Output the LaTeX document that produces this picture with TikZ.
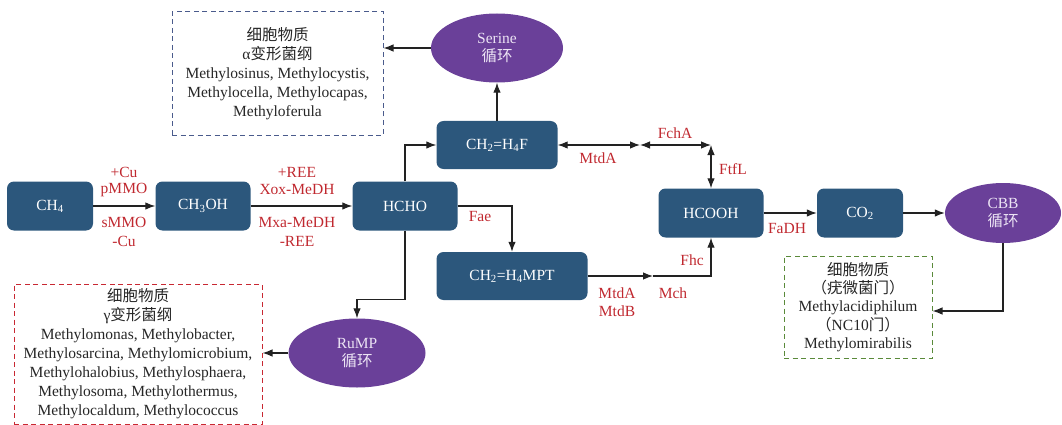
\documentclass[tikz,border=0pt]{standalone}
\usepackage{fontspec}
\setmainfont{Liberation Serif}
\newfontfamily\cjk{Noto Sans CJK SC}
\usetikzlibrary{shapes.geometric,arrows.meta,calc}
\definecolor{boxblue}{RGB}{44,87,124}
\definecolor{purp}{RGB}{106,64,153}
\definecolor{labred}{RGB}{192,40,47}
\definecolor{dblue}{RGB}{74,91,140}
\definecolor{dred}{RGB}{200,40,50}
\definecolor{dgreen}{RGB}{90,138,58}
\definecolor{arrgray}{RGB}{34,34,34}
\definecolor{elltext}{RGB}{236,228,244}
\newcommand{\fsz}{\fontsize{15.5}{19}\selectfont}
\tikzset{
  stepbox/.style={fill=boxblue, rounded corners=7pt, text=white, font=\fsz, inner sep=0pt},
  cyc/.style={ellipse, fill=purp, text=elltext, align=center, inner sep=0pt, font=\fontsize{15.5}{18}\selectfont},
  lab/.style={text=labred, font=\fsz, inner sep=0pt},
  arr/.style={-{Latex[length=10pt,width=7.5pt]}, line width=1.1pt, draw=arrgray},
  darr/.style={{Latex[length=10pt,width=7.5pt]}-{Latex[length=10pt,width=7.5pt]}, line width=1.1pt, draw=arrgray},
  dbox/.style={dash pattern=on 5pt off 3.5pt, line width=1pt, align=center, inner sep=0pt, text=black!85, font=\fsz},
}
\begin{document}
\begin{tikzpicture}[x=1pt,y=-1pt]
\useasboundingbox (0,0) rectangle (1062,425);
% main boxes
\node[stepbox, minimum width=86pt, minimum height=49pt] (ch4) at (50,206) {CH\textsubscript{4}};
\node[stepbox, minimum width=95pt, minimum height=49pt] (ch3oh) at (203,206) {CH\textsubscript{3}OH};
\node[stepbox, minimum width=105pt, minimum height=49pt] (hcho) at (405,206) {HCHO};
\node[stepbox, minimum width=121pt, minimum height=48pt] (h4f) at (497,145) {CH\textsubscript{2}=H\textsubscript{4}F};
\node[stepbox, minimum width=151pt, minimum height=48pt] (h4mpt) at (512,276) {CH\textsubscript{2}=H\textsubscript{4}MPT};
\node[stepbox, minimum width=105pt, minimum height=49pt] (hcooh) at (711,213) {HCOOH};
\node[stepbox, minimum width=86pt, minimum height=49pt] (co2) at (860,213) {CO\textsubscript{2}};
% cycles
\node[cyc, minimum width=132pt, minimum height=69pt] (serine) at (497,48) {Serine\\{\cjk 循环}};
\node[cyc, minimum width=137pt, minimum height=69pt] (rump) at (357,353) {RuMP\\{\cjk 循环}};
\node[cyc, minimum width=116pt, minimum height=60pt] (cbb) at (1003,213) {CBB\\{\cjk 循环}};
% dashed boxes
\node[dbox, draw=dblue, minimum width=211pt, minimum height=123pt] (abox) at (277.5,73.5)
  {{\cjk 细胞物质}\\α{\cjk 变形菌纲}\\Methylosinus, Methylocystis,\\Methylocella, Methylocapas,\\Methyloferula};
\node[dbox, draw=dred, minimum width=248pt, minimum height=140pt] (gbox) at (138,354)
  {{\cjk 细胞物质}\\γ{\cjk 变形菌纲}\\Methylomonas, Methylobacter,\\Methylosarcina, Methylomicrobium,\\Methylohalobius, Methylosphaera,\\Methylosoma, Methylothermus,\\Methylocaldum, Methylococcus};
\node[dbox, draw=dgreen, minimum width=148pt, minimum height=102pt, font=\fontsize{15.5}{18.2}\selectfont] (vbox) at (858,307)
  {{\cjk 细胞物质}\\{\cjk （疣微菌门）}\\Methylacidiphilum\\{\cjk （}NC10{\cjk 门）}\\Methylomirabilis};
% junctions
\coordinate (j1) at (640,145);
\coordinate (j2) at (711,145);
\coordinate (j3) at (653,276);
% connectors
\draw[arr] (ch4) -- (ch3oh);
\draw[arr] (ch3oh) -- (hcho);
\draw[arr] (hcho.north) |- (h4f.west);
\draw[arr] (hcho.east) -| (h4mpt.north);
\draw[arr] (hcho.south) -- ++(0,69) -| (rump.north);
\draw[arr] (rump.west) -- (rump.west -| gbox.east);
\draw[arr] (h4f.north) -- (serine.south);
\draw[arr] (serine.west) -- (serine.west -| abox.east);
\draw[darr] (h4f.east) -- (j1);
\draw[darr] (j1) -- (j2);
\draw[darr] (j2) -- (hcooh.north);
\draw[arr] (h4mpt.east) -- (j3);
\draw[arr] (j3) -| (hcooh.south);
\draw[arr] (hcooh) -- (co2);
\draw[arr] (co2) -- (cbb);
\draw[arr] (cbb.south) |- ([yshift=-4pt]vbox.east);
% enzyme labels
\node[lab] (l1) at (124,172) {+Cu};
\node[lab] (l2) at (124,190) {pMMO};
\node[lab] (l3) at (124,222) {sMMO};
\node[lab] (l4) at (124,241) {-Cu};
\node[lab] (l5) at (297,172) {+REE};
\node[lab] (l6) at (297,190) {Xox-MeDH};
\node[lab] (l7) at (297,222) {Mxa-MeDH};
\node[lab] (l8) at (297,241) {-REE};
\node[lab] (l9) at (480,217) {Fae};
\node[lab] (l10) at (598,158) {MtdA};
\node[lab] (l11) at (675,133) {FchA};
\node[lab] (l12) at (733,169) {FtfL};
\node[lab] (l13) at (787,228) {FaDH};
\node[lab] (l14) at (692,260) {Fhc};
\node[lab] (l15) at (617,293) {MtdA};
\node[lab] (l16) at (617,311) {MtdB};
\node[lab] (l17) at (673,293) {Mch};
\end{tikzpicture}
\end{document}
